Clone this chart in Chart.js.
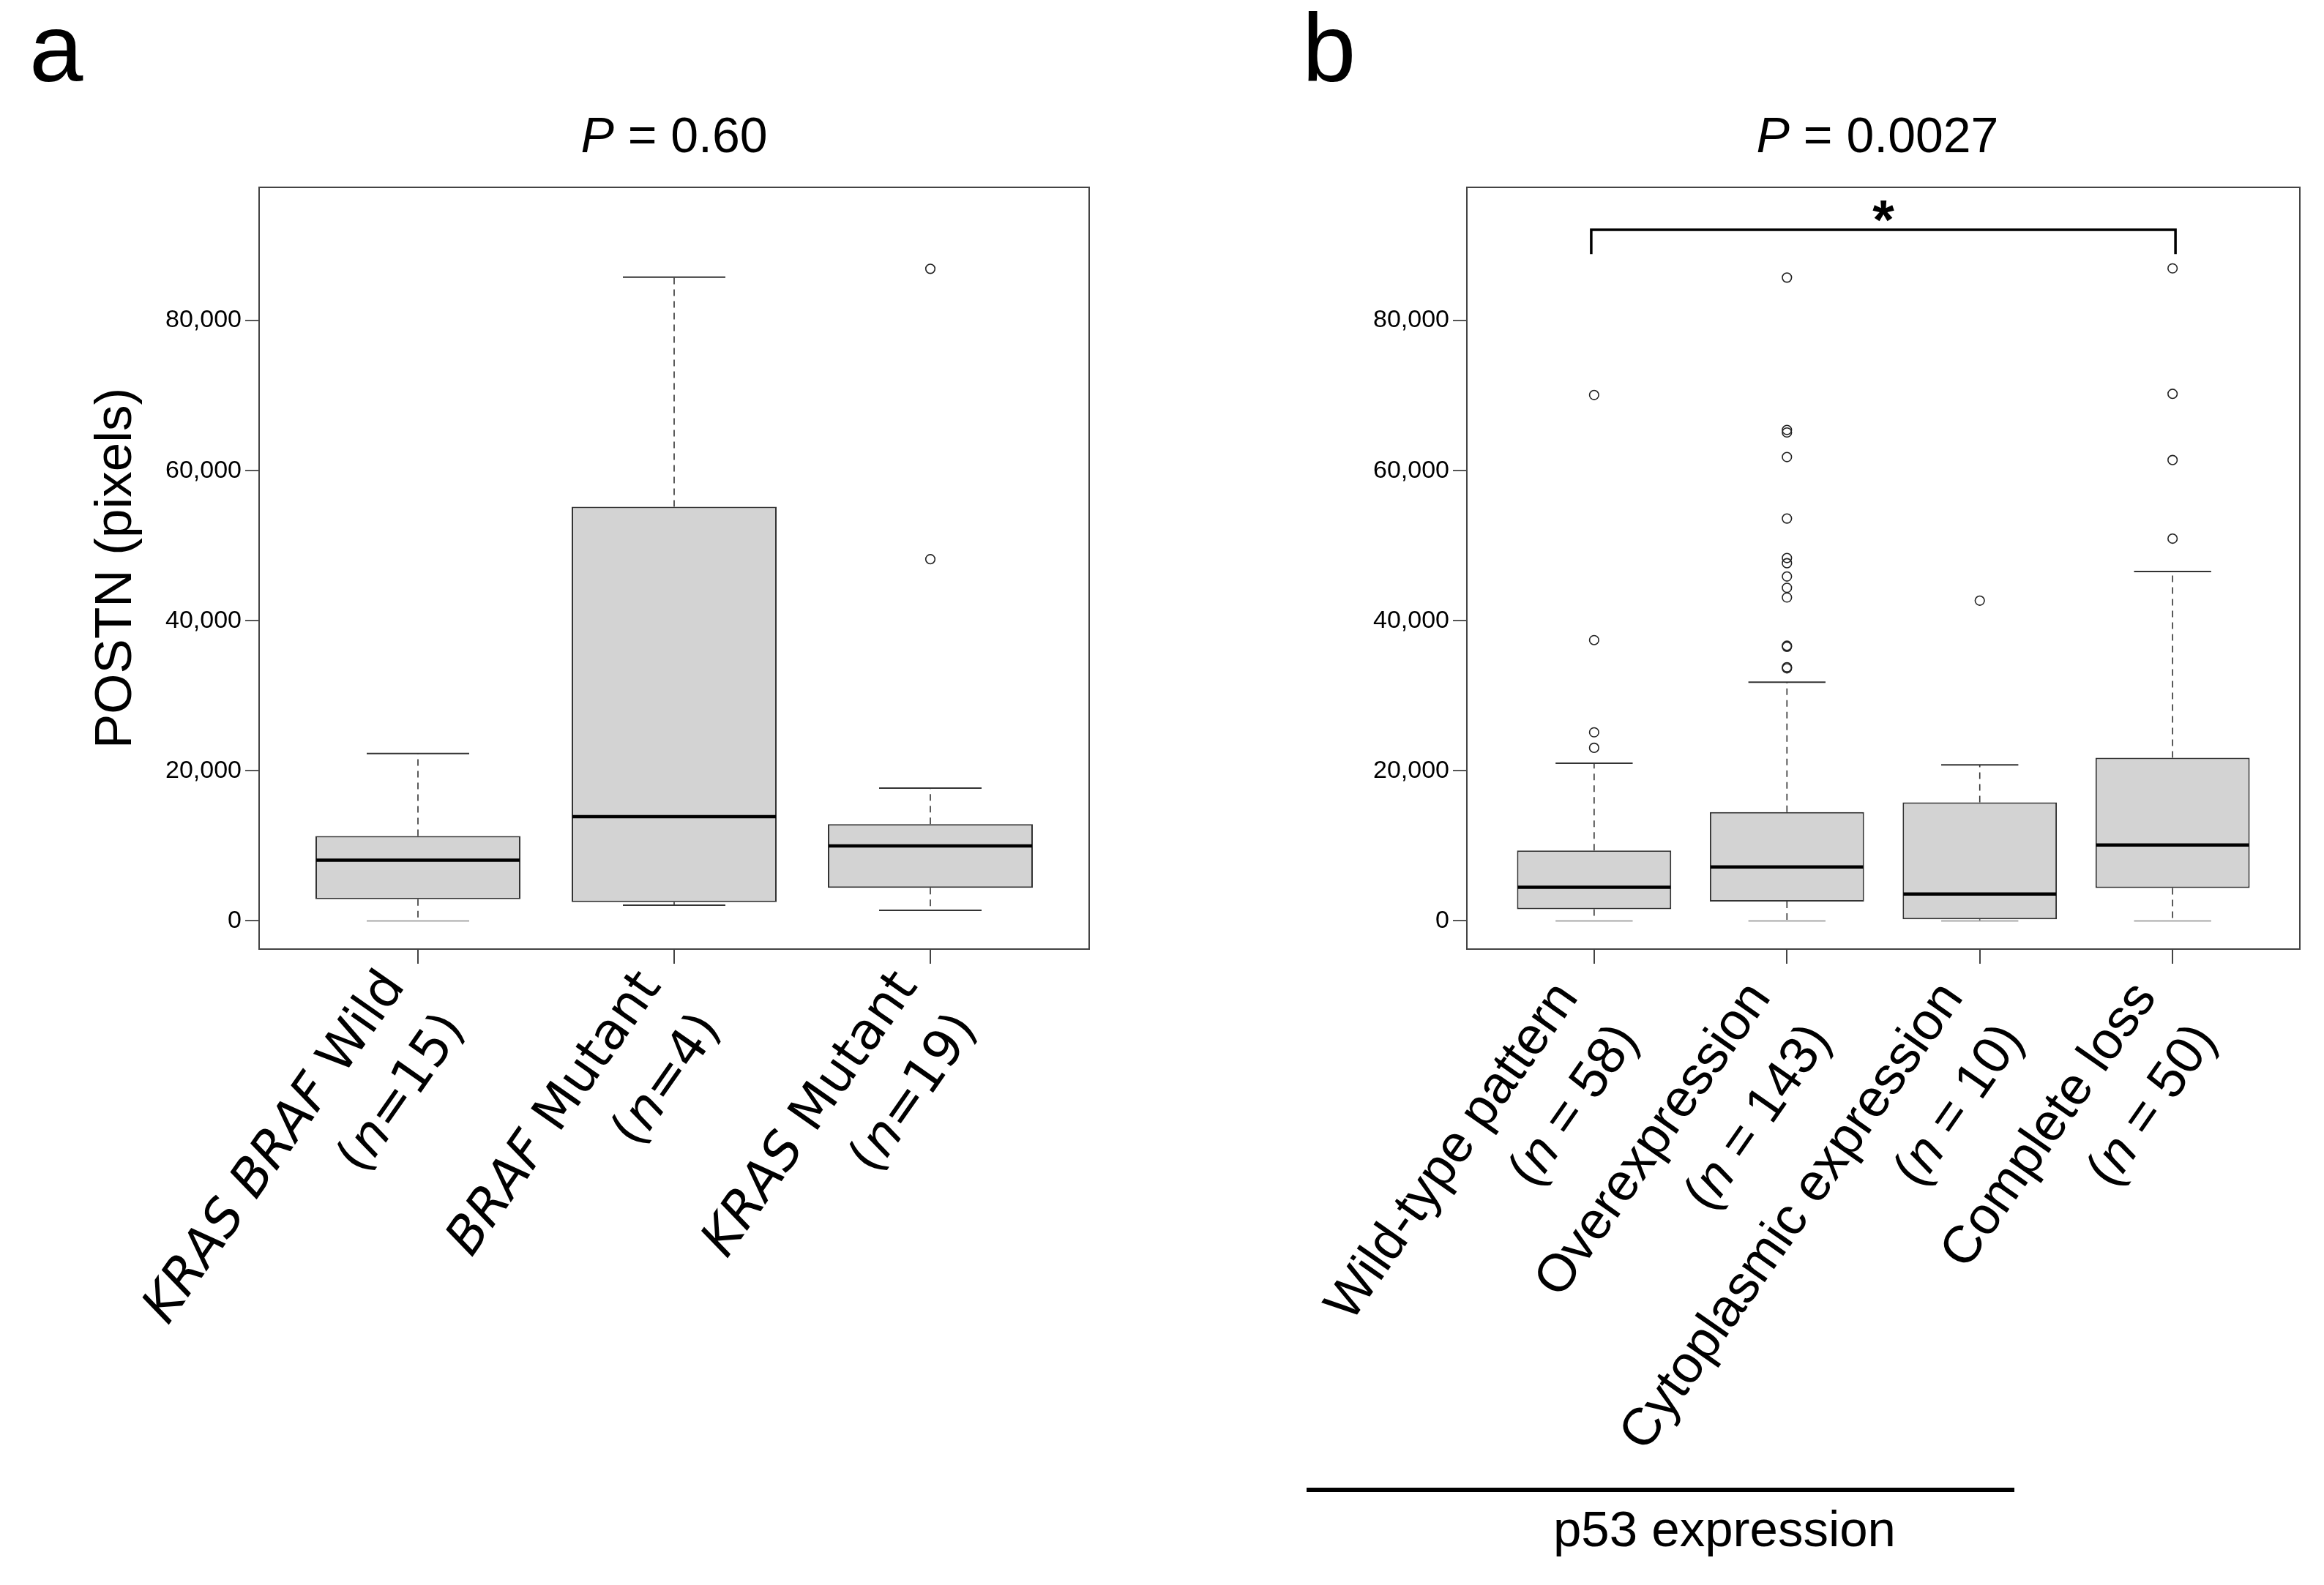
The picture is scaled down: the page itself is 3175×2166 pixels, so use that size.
<!DOCTYPE html>
<html><head><meta charset="utf-8">
<script src="https://cdn.jsdelivr.net/npm/chart.js@4.4.1/dist/chart.umd.min.js"></script>
<style>
html,body{margin:0;padding:0;background:#fff;}
body{width:3175px;height:2166px;position:relative;overflow:hidden;font-family:"Liberation Sans",Arial,sans-serif;color:#000;}
.cv{position:absolute;top:0;}
.t{position:absolute;white-space:nowrap;line-height:1;}
.lab{position:absolute;white-space:nowrap;text-align:right;transform-origin:100% 0;color:#000;}
.lab span{display:block;}
</style></head><body>
<div class="cv" style="left:0"><canvas id="ca" width="1590" height="2166"></canvas></div>
<div class="cv" style="left:1590px"><canvas id="cb" width="1585" height="2166"></canvas></div>

<div class="t" style="left:40px;top:0px;font-size:132px;">a</div>
<div class="t" style="left:1779px;top:0px;font-size:132px;">b</div>
<div class="t" style="left:-79px;width:2000px;text-align:center;top:150px;font-size:68px;"><i>P</i> = 0.60</div>
<div class="t" style="left:1565px;width:2000px;text-align:center;top:150px;font-size:68px;"><i>P</i> = 0.0027</div>
<div style="position:absolute;left:1785px;top:2033px;width:967px;height:6px;background:#000;"></div>
<div class="t" style="left:1356px;width:2000px;text-align:center;top:2055px;font-size:69px;">p53 expression</div>

<script>
// ---------- Panel a data ----------
const catsA = ['KRAS BRAF Wild', 'BRAF Mutant', 'KRAS Mutant'];
const italicA = [['KRAS', 'BRAF'], ['BRAF'], ['KRAS']];
const nA = [15, 4, 19];
const lowA = [0, 2100, 1400];
const q1A = [2900, 2500, 4400];
const medA = [8100, 13900, 10000];
const q3A = [11300, 55200, 12900];
const highA = [22300, 85800, 17700];
const outA = [[], [], [86900, 48200]];

// ---------- Panel b data ----------
const catsB = ['Wild-type pattern', 'Overexpression', 'Cytoplasmic expression', 'Complete loss'];
const nB = [58, 143, 10, 50];
const lowB = [0, 0, 0, 0];
const q1B = [1550, 2580, 215, 4380];
const medB = [4480, 7180, 3590, 10120];
const q3B = [9380, 14490, 15790, 21740];
const highB = [21000, 31800, 20800, 46570];
const outB = [
  [70080, 37420, 25130, 23070],
  [85730, 65430, 65090, 61820, 53620, 48360, 47670, 45900, 44390, 43100, 36670, 36530, 33800, 33660],
  [42680],
  [86960, 70240, 61420, 50940]
];

// ---------- Shared ----------
const yTicks = [0, 20000, 40000, 60000, 80000];
const yTitleA = 'POSTN (pixels)';
const sigLabel = '*';

const boxPlugin = {
  id: 'boxparts',
  afterDatasetsDraw(chart, args, o) {
    const ctx = chart.ctx, xs = chart.scales.x, ys = chart.scales.y;
    const meta = chart.getDatasetMeta(0);
    ctx.save();
    o.low.forEach((lo, i) => {
      const bar = meta.data[i];
      const cx = xs.getPixelForValue(i + 1);
      const hw = bar.width / 2;
      // whiskers
      ctx.setLineDash([9, 7]);
      ctx.lineWidth = 1.6;
      ctx.strokeStyle = '#333';
      ctx.beginPath();
      ctx.moveTo(cx, ys.getPixelForValue(o.q3[i]));
      ctx.lineTo(cx, ys.getPixelForValue(o.high[i]));
      ctx.moveTo(cx, ys.getPixelForValue(o.q1[i]));
      ctx.lineTo(cx, ys.getPixelForValue(lo));
      ctx.stroke();
      ctx.setLineDash([]);
      // staples
      [o.high[i], lo].forEach(v => {
        ctx.strokeStyle = v === 0 ? '#aaa' : '#333';
        ctx.lineWidth = 2;
        const y = ys.getPixelForValue(v);
        ctx.beginPath();
        ctx.moveTo(cx - hw / 2, y);
        ctx.lineTo(cx + hw / 2, y);
        ctx.stroke();
      });
      // median
      ctx.strokeStyle = '#000';
      ctx.lineWidth = 4.5;
      const ym = ys.getPixelForValue(o.med[i]);
      ctx.beginPath();
      ctx.moveTo(cx - hw + 1, ym);
      ctx.lineTo(cx + hw - 1, ym);
      ctx.stroke();
    });
    // bracket
    if (o.bracket) {
      const b = o.bracket;
      const x1 = xs.getPixelForValue(b.from), x2 = xs.getPixelForValue(b.to);
      const yl = ys.getPixelForValue(b.y), yd = ys.getPixelForValue(b.drop);
      ctx.strokeStyle = '#000';
      ctx.lineWidth = 3.5;
      ctx.lineJoin = 'miter';
      ctx.beginPath();
      ctx.moveTo(x1, yd); ctx.lineTo(x1, yl); ctx.lineTo(x2, yl); ctx.lineTo(x2, yd);
      ctx.stroke();
      ctx.fillStyle = '#000';
      ctx.font = 'bold 76px "Liberation Sans"';
      ctx.textAlign = 'center';
      ctx.textBaseline = 'alphabetic';
      ctx.fillText(b.text, xs.getPixelForValue((b.from + b.to) / 2), ys.getPixelForValue(b.textY) + 0.56 * 76);
    }
    // frame
    const a = chart.chartArea;
    ctx.strokeStyle = '#444';
    ctx.lineWidth = 2;
    ctx.strokeRect(a.left, a.top, a.right - a.left, a.bottom - a.top);
    ctx.restore();
  }
};

function makeChart(id, c) {
  const outliers = [];
  c.out.forEach((arr, i) => arr.forEach(v => outliers.push({ x: i + 1, y: v })));
  return new Chart(document.getElementById(id), {
    type: 'bar',
    data: {
      datasets: [
        {
          type: 'bar',
          data: c.cats.map((_, i) => ({ x: i + 1, y: [c.q1[i], c.q3[i]] })),
          backgroundColor: '#d3d3d3',
          borderColor: '#333',
          borderWidth: 2,
          borderSkipped: false,
          barPercentage: 0.8,
          categoryPercentage: 1.0
        },
        {
          type: 'scatter',
          data: outliers,
          showLine: false,
          pointStyle: 'circle',
          pointRadius: 6.3,
          pointBorderWidth: 1.6,
          pointBorderColor: '#222',
          pointBackgroundColor: 'rgba(0,0,0,0)'
        }
      ]
    },
    options: {
      responsive: false,
      animation: false,
      devicePixelRatio: 1,
      events: [],
      layout: { padding: { left: 0, top: 256, right: c.padRight, bottom: 0 } },
      plugins: {
        legend: { display: false },
        tooltip: { enabled: false },
        boxparts: { low: c.low, q1: c.q1, med: c.med, q3: c.q3, high: c.high, bracket: c.bracket }
      },
      scales: {
        x: {
          type: 'linear',
          min: c.xmin, max: c.xmax,
          offset: false,
          afterBuildTicks: s => { s.ticks = c.cats.map((_, i) => ({ value: i + 1 })); },
          afterFit: s => { s.height = 2166 - 1297; },
          ticks: { display: false },
          grid: { offset: false, drawOnChartArea: false, drawTicks: true, tickLength: 20, color: '#444', lineWidth: 2 },
          border: { display: false }
        },
        y: {
          type: 'linear',
          min: -3760, max: 97760,
          afterBuildTicks: s => { s.ticks = yTicks.map(v => ({ value: v })); },
          afterFit: s => { s.width = c.yWidth; },
          ticks: {
            font: { family: 'Liberation Sans', size: 34 },
            color: '#000',
            padding: 5,
            callback: v => Number(v).toLocaleString('en-US')
          },
          grid: { drawOnChartArea: false, drawTicks: true, tickLength: 19, color: '#555', lineWidth: 2 },
          border: { display: false },
          title: c.yTitle ? {
            display: true, text: c.yTitle, color: '#000',
            font: { family: 'Liberation Sans', size: 71 },
            padding: { top: 117, bottom: 0 }
          } : { display: false }
        }
      }
    },
    plugins: [boxPlugin]
  });
}

const chartA = makeChart('ca', {
  cats: catsA, low: lowA, q1: q1A, med: medA, q3: q3A, high: highA, out: outA,
  xmin: 0.38, xmax: 3.62, padRight: 102, yWidth: 354, yTitle: yTitleA
});
const chartB = makeChart('cb', {
  cats: catsB, low: lowB, q1: q1B, med: medB, q3: q3B, high: highB, out: outB,
  xmin: 0.34, xmax: 4.66, padRight: 33, yWidth: 414, yTitle: null,
  bracket: { from: 0.985, to: 4.015, y: 92100, drop: 88870, textY: 95100, text: sigLabel }
});

function placeLabels(chart, wrapLeft, cats, italics, ns, nFmt, opt) {
  const xs = chart.scales.x;
  cats.forEach((c, i) => {
    const px = wrapLeft + xs.getPixelForValue(i + 1);
    let l1 = c;
    (italics[i] || []).forEach(w => { l1 = l1.replace(w, '<i>' + w + '</i>'); });
    const d = document.createElement('div');
    d.className = 'lab';
    d.innerHTML = '<span>' + l1 + '</span><span>' + nFmt(ns[i]) + '</span>';
    d.style.fontFamily = opt.family;
    d.style.fontSize = opt.size + 'px';
    d.style.lineHeight = opt.lh + 'px';
    d.style.right = (3175 - (px + opt.dx)) + 'px';
    d.style.top = opt.top + 'px';
    d.style.transform = 'rotate(-' + opt.angle + 'deg)';
    document.body.appendChild(d);
  });
}
placeLabels(chartA, 0, catsA, italicA, nA, n => '(<i>n</i>=' + n + ')',
  { family: '"DejaVu Sans"', size: 70, lh: 100, dx: -77, top: 1305, angle: 55 });
placeLabels(chartB, 1590, catsB, [], nB, n => '(<i>n</i> = ' + n + ')',
  { family: '"Liberation Sans"', size: 72, lh: 100, dx: -82, top: 1320, angle: 55 });
</script>
</body></html>
